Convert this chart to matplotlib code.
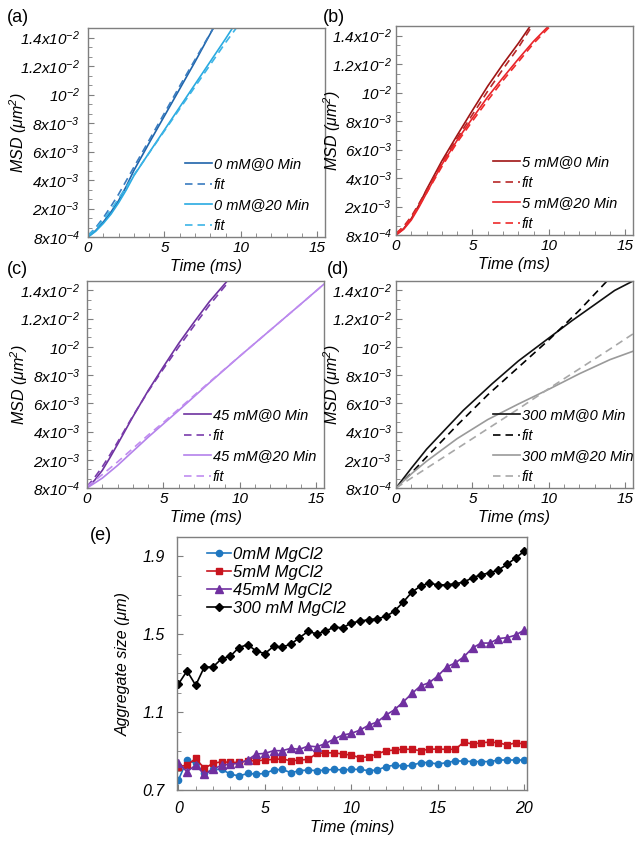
import numpy as np
import matplotlib
matplotlib.use("Agg")
import matplotlib.pyplot as plt
from matplotlib.ticker import FixedLocator, MultipleLocator

plt.rcParams['font.family'] = ['Liberation Sans', 'DejaVu Sans']
plt.rcParams['font.style'] = 'italic'
plt.rcParams['mathtext.fontset'] = 'custom'
plt.rcParams['mathtext.rm'] = 'Liberation Sans:italic'
plt.rcParams['mathtext.it'] = 'Liberation Sans:italic'
plt.rcParams['mathtext.default'] = 'rm'

# ---------------- MSD data (units of 1e-3 um^2, time in ms) ----------------
a0_t = [0, 0.5, 1, 1.5, 2, 2.5, 3, 4, 5, 6, 7, 8.2]
a0_v = [0.8, 1.07, 1.43, 1.85, 2.55, 3.55, 4.67, 6.6, 8.5, 10.4, 12.3, 14.67]
a0f_t = [0, 0.5, 1, 1.5, 2, 2.5, 3, 4, 5, 6, 7, 8.2]
a0f_v = [0.86, 1.19, 1.61, 2.15, 3.0, 3.95, 4.9, 6.8, 8.7, 10.6, 12.45, 14.67]
a20_t = [0, 0.5, 1, 1.5, 2, 2.5, 3, 4, 5, 6, 7, 8, 9, 9.45]
a20_v = [0.8, 1.04, 1.37, 1.76, 2.4, 3.3, 4.3, 5.92, 7.52, 9.12, 10.72, 12.32, 13.92, 14.67]
a20f_t = [0, 0.5, 1, 1.5, 2, 2.5, 3, 4, 5, 6, 7, 8, 9, 9.7]
a20f_v = [0.86, 1.16, 1.52, 1.94, 2.7, 3.5, 4.35, 5.9, 7.45, 9.0, 10.55, 12.1, 13.65, 14.67]

b0_t = [0, 0.5, 1, 1.5, 2, 3, 4, 5, 6, 7, 8, 8.78]
b0_v = [0.8, 1.07, 1.49, 2.1, 3.2, 5.2, 7.0, 8.75, 10.45, 12.0, 13.45, 14.67]
b0f_t = [0, 0.5, 1, 1.5, 2, 3, 4, 5, 6, 7, 8, 8.9]
b0f_v = [0.86, 1.16, 1.58, 2.2, 3.15, 5.05, 6.8, 8.45, 10.1, 11.65, 13.15, 14.67]
b20_t = [0, 0.5, 1, 1.5, 2, 3, 4, 5, 6, 7, 8, 9, 9.98]
b20_v = [0.8, 1.04, 1.43, 1.97, 2.95, 4.95, 6.65, 8.2, 9.7, 11.05, 12.35, 13.6, 14.67]
b20f_t = [0, 0.5, 1, 1.5, 2, 3, 4, 5, 6, 7, 8, 9, 10.1]
b20f_v = [0.86, 1.13, 1.52, 2.05, 2.95, 4.8, 6.5, 8.0, 9.45, 10.85, 12.15, 13.45, 14.67]

c0_t = [0, 0.5, 1, 1.5, 2, 3, 4, 5, 6, 7, 8, 9.17]
c0_v = [0.8, 1.13, 1.55, 2.15, 3.1, 5.05, 6.9, 8.6, 10.25, 11.75, 13.2, 14.67]
c0f_t = [0, 0.5, 1, 1.5, 2, 3, 4, 5, 6, 7, 8, 9.3]
c0f_v = [0.86, 1.25, 1.7, 2.35, 3.25, 5.1, 6.85, 8.45, 10.0, 11.5, 12.95, 14.67]
c20_t = [0, 1, 2, 3, 4, 5, 6, 8, 10, 12, 14, 15.5]
c20_v = [0.8, 1.22, 1.76, 2.6, 3.6, 4.55, 5.5, 7.45, 9.35, 11.2, 13.05, 14.45]
c20f_t = [0, 1, 2, 3, 4, 5, 6, 8, 10, 12, 14, 15.5]
c20f_v = [0.86, 1.37, 1.91, 2.8, 3.75, 4.65, 5.6, 7.5, 9.35, 11.2, 13.05, 14.45]

d0_t = [0, 1, 2, 3, 4.4, 6.3, 8, 9.9, 11.5, 13, 14.3, 15.5]
d0_v = [0.8, 1.64, 2.75, 3.9, 5.5, 7.4, 9.0, 10.55, 11.85, 13.0, 14.0, 14.67]
d0f_t = [0, 1, 2, 4, 6, 8, 10, 12, 13.8]
d0f_v = [0.8, 1.43, 2.2, 4.45, 6.6, 8.55, 10.5, 12.6, 14.67]
d20_t = [0, 1, 2, 4, 6, 8, 10, 12, 14, 15.5]
d20_v = [0.8, 1.4, 1.94, 3.5, 4.85, 5.95, 7.0, 8.1, 9.1, 9.69]
d20f_t = [0, 2, 4, 6, 8, 10, 12, 14, 15.5]
d20f_v = [0.8, 1.64, 2.8, 4.2, 5.6, 7.05, 8.45, 9.85, 10.92]

ytick_vals = [0.8, 2, 4, 6, 8, 10, 12, 14]
ytick_labels = ['8x10$^{-4}$', '2x10$^{-3}$', '4x10$^{-3}$', '6x10$^{-3}$',
                '8x10$^{-3}$', '10$^{-2}$', '1.2x10$^{-2}$', '1.4x10$^{-2}$']

# ---------------- Aggregate size data ----------------
time_min = [i * 0.5 for i in range(41)]
size_0 = [0.751, 0.854, 0.837, 0.785, 0.806, 0.806, 0.782, 0.772, 0.785, 0.782, 0.785,
          0.803, 0.806, 0.789, 0.799, 0.803, 0.799, 0.803, 0.806, 0.803, 0.806,
          0.806, 0.799, 0.803, 0.820, 0.828, 0.823, 0.826, 0.841, 0.841, 0.833,
          0.841, 0.849, 0.849, 0.846, 0.846, 0.846, 0.854, 0.854, 0.854, 0.854]
size_5 = [0.820, 0.828, 0.862, 0.811, 0.837, 0.845, 0.842, 0.842, 0.850, 0.850, 0.854,
          0.857, 0.860, 0.850, 0.854, 0.857, 0.888, 0.891, 0.891, 0.885, 0.879,
          0.866, 0.871, 0.885, 0.902, 0.905, 0.910, 0.909, 0.902, 0.910, 0.910,
          0.909, 0.909, 0.946, 0.936, 0.943, 0.946, 0.943, 0.931, 0.943, 0.936]
size_45 = [0.837, 0.794, 0.828, 0.780, 0.806, 0.828, 0.833, 0.837, 0.854, 0.885, 0.888,
           0.902, 0.902, 0.914, 0.909, 0.926, 0.922, 0.939, 0.962, 0.982, 0.991,
           1.008, 1.033, 1.050, 1.085, 1.113, 1.153, 1.196, 1.235, 1.252, 1.286,
           1.332, 1.353, 1.384, 1.430, 1.455, 1.455, 1.478, 1.483, 1.496, 1.523]
size_300 = [1.244, 1.312, 1.238, 1.332, 1.332, 1.375, 1.387, 1.432, 1.447, 1.414, 1.401,
            1.438, 1.435, 1.449, 1.483, 1.515, 1.502, 1.517, 1.536, 1.534, 1.558,
            1.568, 1.575, 1.580, 1.592, 1.620, 1.666, 1.717, 1.748, 1.763, 1.754,
            1.754, 1.760, 1.768, 1.791, 1.806, 1.816, 1.831, 1.859, 1.893, 1.927]

# ---------------- figure ----------------
W, H = 643, 847
fig = plt.figure(figsize=(W / 100, H / 100), dpi=100)


def rect(l, t, r, b):
    return [l / W, 1 - b / H, (r - l) / W, (b - t) / H]


def fwd(v):
    v = np.asarray(v, dtype=float)
    return np.where(v >= 2, v, (v - 0.8) / 0.6)


def inv(u):
    u = np.asarray(u, dtype=float)
    return np.where(u >= 2, u, 0.8 + 0.6 * u)


GREY = '#7f7f7f'
dash = (0, (4.5, 3))


def msd_panel(r, series, ylab_x, ypad):
    ax = fig.add_axes(rect(*r))
    ax.set_yscale('function', functions=(fwd, inv))
    for t, v, c, ls, lab in series:
        ax.plot(t, v, color=c, lw=1.2, linestyle=ls, label=lab)
    ax.set_xlim(0, 15.5)
    ax.set_ylim(0.8, 14.67)
    ax.yaxis.set_major_locator(FixedLocator(ytick_vals))
    ax.set_yticklabels(ytick_labels)
    minor_u = np.arange(0, 14.67, 2 / 3)
    ax.yaxis.set_minor_locator(FixedLocator(inv(minor_u)))
    ax.xaxis.set_major_locator(FixedLocator([0, 5, 10, 15]))
    ax.xaxis.set_minor_locator(MultipleLocator(1))
    ax.tick_params(which='both', direction='in', color=GREY, labelsize=11)
    ax.tick_params(which='major', length=4, width=0.8)
    ax.tick_params(which='minor', length=3, width=0.6)
    ax.tick_params(axis='x', pad=3)
    ax.tick_params(axis='y', pad=ypad)
    for s in ax.spines.values():
        s.set_color(GREY)
        s.set_linewidth(1.0)
    ax.set_xlabel('Time (ms)', fontsize=11.5, labelpad=3)
    ax.set_ylabel('MSD (μm$^2$)', fontsize=11.5)
    ax.yaxis.set_label_coords(ylab_x, 0.5)
    ax.legend(loc='lower left', bbox_to_anchor=(0.41, 0.02), frameon=False,
              fontsize=10.5, handlelength=1.85, handletextpad=0.1,
              labelspacing=0.45, borderpad=0, borderaxespad=0)
    return ax


axa = msd_panel((88, 28, 325, 237), [
    (a0_t, a0_v, '#1f64aa', '-', '0 mM@0 Min'),
    (a0f_t, a0f_v, '#3a7cc0', dash, 'fit'),
    (a20_t, a20_v, '#29aae1', '-', '0 mM@20 Min'),
    (a20f_t, a20f_v, '#3cb4e6', dash, 'fit'),
], -0.25, 6)
axb = msd_panel((396, 26, 633, 235), [
    (b0_t, b0_v, '#a01414', '-', '5 mM@0 Min'),
    (b0f_t, b0f_v, '#b82828', dash, 'fit'),
    (b20_t, b20_v, '#e8242a', '-', '5 mM@20 Min'),
    (b20f_t, b20f_v, '#ee2a2a', dash, 'fit'),
], -0.222, 3)
axc = msd_panel((87, 281, 324, 488), [
    (c0_t, c0_v, '#6e32a0', '-', '45 mM@0 Min'),
    (c0f_t, c0f_v, '#7a3cac', dash, 'fit'),
    (c20_t, c20_v, '#b482eb', '-', '45 mM@20 Min'),
    (c20f_t, c20f_v, '#c08cf0', dash, 'fit'),
], -0.24, 5)
axd = msd_panel((396, 281, 633, 488), [
    (d0_t, d0_v, '#111111', '-', '300 mM@0 Min'),
    (d0f_t, d0f_v, '#000000', dash, 'fit'),
    (d20_t, d20_v, '#9a9a9a', '-', '300 mM@20 Min'),
    (d20f_t, d20f_v, '#a8a8a8', dash, 'fit'),
], -0.225, 3)

for txt, x, y in [('(a)', 18, 17), ('(b)', 334, 17), ('(c)', 17, 270),
                  ('(d)', 338, 270), ('(e)', 101, 535)]:
    fig.text(x / W, 1 - y / H, txt, fontsize=13, fontstyle='normal',
             ha='center', va='center')

# ---------------- panel (e) ----------------
axe = fig.add_axes(rect(177, 537, 527, 790))
axe.plot(time_min, size_0, color='#1f77c0', marker='o', ms=4.5, lw=1.2, label='0mM MgCl2')
axe.plot(time_min, size_5, color='#c8141e', marker='s', ms=4.5, lw=1.2, label='5mM MgCl2')
axe.plot(time_min, size_45, color='#7030a0', marker='^', ms=5.3, lw=1.2, label='45mM MgCl2')
axe.plot(time_min, size_300, color='#000000', marker='D', ms=4.3, lw=1.2, label='300 mM MgCl2')
axe.set_xlim(-0.08, 20.15)
axe.set_ylim(0.7, 2.0)
axe.xaxis.set_major_locator(FixedLocator([0, 5, 10, 15, 20]))
axe.xaxis.set_minor_locator(MultipleLocator(1))
axe.yaxis.set_major_locator(FixedLocator([0.7, 1.1, 1.5, 1.9]))
axe.yaxis.set_minor_locator(MultipleLocator(0.1))
axe.set_yticklabels(['0.7', '1.1', '1.5', '1.9'])
axe.tick_params(which='both', direction='in', color=GREY, labelsize=11.5)
axe.tick_params(which='major', length=4, width=0.8)
axe.tick_params(which='minor', length=3, width=0.6)
axe.tick_params(axis='x', pad=8)
axe.tick_params(axis='y', pad=9)
for s in axe.spines.values():
    s.set_color(GREY)
    s.set_linewidth(1.0)
axe.set_xlabel('Time (mins)', fontsize=11.5, labelpad=3)
axe.set_ylabel('Aggregate size (μm)', fontsize=11.5, labelpad=8)
axe.legend(loc='upper left', bbox_to_anchor=(0.086, 0.962), frameon=False,
           fontsize=12, handlelength=1.45, handletextpad=0.1,
           labelspacing=0.18, borderpad=0, borderaxespad=0)

fig.savefig('out.png', dpi=100)
